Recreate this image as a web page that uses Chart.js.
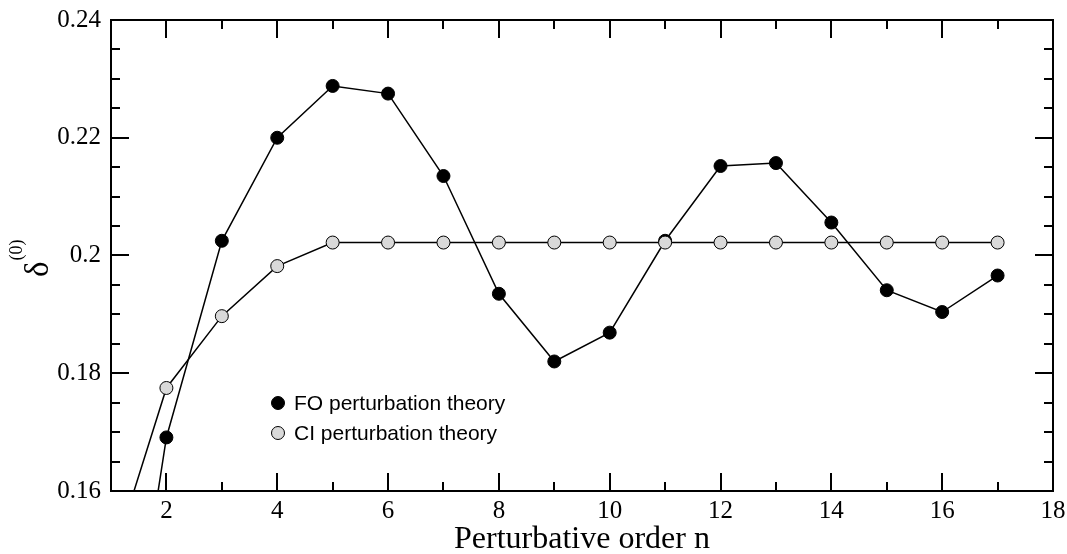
<!DOCTYPE html>
<html>
<head>
<meta charset="utf-8">
<script src="https://cdn.jsdelivr.net/npm/chart.js@4.4.1/dist/chart.umd.min.js"></script>
<style>
  html, body { margin: 0; padding: 0; background: #fff; }
  #wrap { width: 1067px; height: 554px; }
</style>
</head>
<body>
<div id="wrap"><canvas id="delta" width="1067" height="554"></canvas></div>
<script>
// perturbative order n
const orders = [1, 2, 3, 4, 5, 6, 7, 8, 9, 10, 11, 12, 13, 14, 15, 16, 17];

// delta^(0)
const foValues = [0.1082, 0.1691, 0.2025, 0.2200, 0.2288, 0.2275, 0.2135, 0.1935, 0.1820,
                  0.1869, 0.2025, 0.2152, 0.2157, 0.2056, 0.1941, 0.1904, 0.1966];
const ciValues = [0.1476, 0.1775, 0.1897, 0.1982, 0.2022, 0.2022, 0.2022, 0.2022, 0.2022,
                  0.2022, 0.2022, 0.2022, 0.2022, 0.2022, 0.2022, 0.2022, 0.2022];

const seriesNames = ['FO perturbation theory', 'CI perturbation theory'];

const xTicks = [2, 4, 6, 8, 10, 12, 14, 16, 18];
const yTicks = [0.16, 0.18, 0.2, 0.22, 0.24];
const yTickLabels = ['0.16', '0.18', '0.2', '0.22', '0.24'];

const X_MIN = 1, X_MAX = 18, Y_MIN = 0.16, Y_MAX = 0.24;
const X_MINOR = 1, Y_MINOR = 0.005;

const SERIF = '"Liberation Serif", "Times New Roman", serif';
const SANS = '"Liberation Sans", Arial, sans-serif';

function toPoints(vals) {
  return orders.map((n, i) => ({ x: n, y: vals[i] }));
}

// keep the plot box where the layout padding puts it
function noScalePadding(s) {
  s.paddingLeft = 0; s.paddingRight = 0;
  s.paddingTop = 0; s.paddingBottom = 0;
}

// frame + inward ticks on all four sides, y title, legend
const framePlugin = {
  id: 'frame',
  afterDraw(chart) {
    const { ctx, chartArea: a, scales } = chart;
    const xs = scales.x, ys = scales.y;
    ctx.save();
    ctx.strokeStyle = '#000';
    ctx.lineWidth = 2;
    ctx.strokeRect(a.left, a.top, a.right - a.left, a.bottom - a.top);

    ctx.beginPath();
    // x ticks
    for (let v = X_MIN + X_MINOR; v < X_MAX; v += X_MINOR) {
      const px = Math.round(xs.getPixelForValue(v));
      const len = xTicks.includes(v) ? 18 : 9;
      ctx.moveTo(px, a.bottom); ctx.lineTo(px, a.bottom - len);
      ctx.moveTo(px, a.top); ctx.lineTo(px, a.top + len);
    }
    // y ticks
    const nY = Math.round((Y_MAX - Y_MIN) / Y_MINOR);
    for (let k = 1; k < nY; k++) {
      const v = Y_MIN + k * Y_MINOR;
      const py = Math.round(ys.getPixelForValue(v));
      const len = k % 4 === 0 ? 18 : 9;
      ctx.moveTo(a.left, py); ctx.lineTo(a.left + len, py);
      ctx.moveTo(a.right, py); ctx.lineTo(a.right - len, py);
    }
    ctx.stroke();

    // y title: delta^(0), rotated
    ctx.save();
    ctx.translate(48, 277);
    ctx.rotate(-Math.PI / 2);
    ctx.fillStyle = '#000';
    ctx.textAlign = 'left';
    ctx.textBaseline = 'alphabetic';
    ctx.font = '33px ' + SERIF;
    ctx.fillText('δ', 0, 0);
    const w = ctx.measureText('δ').width;
    ctx.font = '18px ' + SERIF;
    ctx.fillText('(0)', w + 1, -26);
    ctx.restore();

    // legend
    const rows = [403, 433];
    chart.data.datasets.forEach(ds => {
      const row = rows[seriesNames.indexOf(ds.label)];
      ctx.beginPath();
      ctx.arc(278, row, 6.5, 0, Math.PI * 2);
      ctx.fillStyle = ds.pointBackgroundColor;
      ctx.fill();
      ctx.lineWidth = 1;
      ctx.strokeStyle = '#000';
      ctx.stroke();
      ctx.fillStyle = '#000';
      ctx.font = '21px ' + SANS;
      ctx.textAlign = 'left';
      ctx.textBaseline = 'middle';
      ctx.fillText(ds.label, 294, row + 1);
    });
    ctx.restore();
  }
};

const ctx = document.getElementById('delta');
const chart = new Chart(ctx, {
  type: 'scatter',
  data: {
    datasets: [
      {
        label: seriesNames[1],
        data: toPoints(ciValues),
        showLine: true,
        borderColor: '#000',
        borderWidth: 1.5,
        pointRadius: 6.5,
        pointBorderWidth: 1,
        pointBorderColor: '#000',
        pointBackgroundColor: '#d9d9d9',
        clip: 0,
        order: 0
      },
      {
        label: seriesNames[0],
        data: toPoints(foValues),
        showLine: true,
        borderColor: '#000',
        borderWidth: 1.5,
        pointRadius: 6.5,
        pointBorderWidth: 1,
        pointBorderColor: '#000',
        pointBackgroundColor: '#000',
        clip: 0,
        order: 1
      }
    ]
  },
  options: {
    responsive: false,
    animation: false,
    devicePixelRatio: 1,
    layout: { padding: { left: 0, top: 20, right: 14, bottom: 0 } },
    plugins: {
      legend: { display: false },
      tooltip: { enabled: false }
    },
    scales: {
      x: {
        type: 'linear',
        min: X_MIN,
        max: X_MAX,
        grid: { display: false, drawTicks: false },
        border: { display: false },
        afterBuildTicks: s => { s.ticks = xTicks.map(v => ({ value: v })); },
        afterFit: s => { s.height = 63; noScalePadding(s); },
        ticks: {
          color: '#000',
          font: { family: SERIF, size: 25 },
          padding: 5,
          maxRotation: 0,
          callback: v => String(v)
        },
        title: {
          display: true,
          text: 'Perturbative order n',
          color: '#000',
          font: { family: SERIF, size: 32, lineHeight: 0.9 },
          padding: { top: 0, bottom: 0 }
        }
      },
      y: {
        type: 'linear',
        min: Y_MIN,
        max: Y_MAX,
        grid: { display: false, drawTicks: false },
        border: { display: false },
        afterBuildTicks: s => { s.ticks = yTicks.map(v => ({ value: v })); },
        afterFit: s => { s.width = 111; noScalePadding(s); },
        ticks: {
          color: '#000',
          font: { family: SERIF, size: 25 },
          padding: 10,
          callback: v => {
            const i = yTicks.findIndex(t => Math.abs(t - v) < 1e-9);
            return i >= 0 ? yTickLabels[i] : '';
          }
        }
      }
    }
  },
  plugins: [framePlugin]
});
</script>
</body>
</html>
